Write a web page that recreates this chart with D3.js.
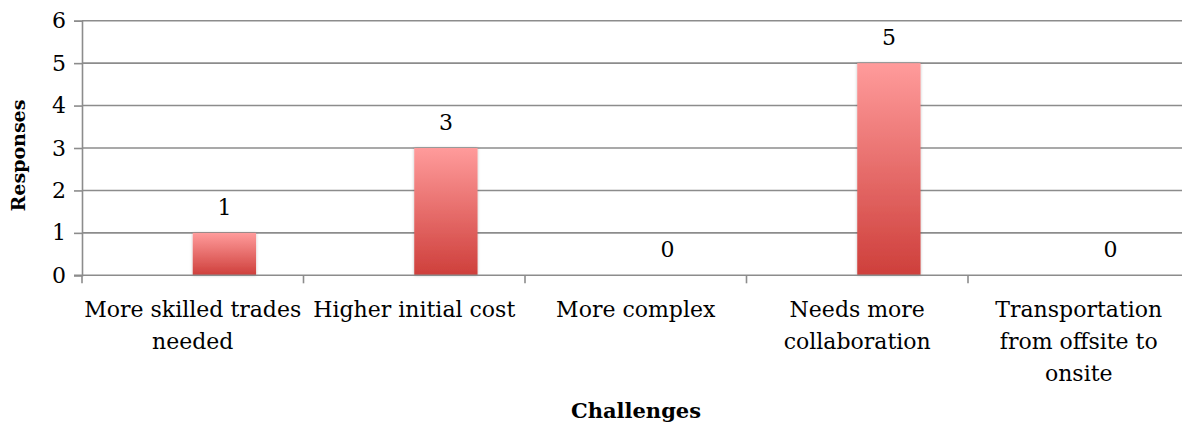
<!DOCTYPE html>
<html>
<head>
<meta charset="utf-8">
<script src="https://cdn.jsdelivr.net/npm/d3@7"></script>
<style>
  html, body { margin: 0; padding: 0; background: #fff; }
  svg { display: block; }
  text { font-family: "DejaVu Serif", "Liberation Serif", serif; fill: #000; }
</style>
</head>
<body>
<svg id="chart" width="1182" height="426"></svg>
<script>
// Survey results: challenges reported by respondents
const categories = [
  "More skilled trades needed",
  "Higher initial cost",
  "More complex",
  "Needs more collaboration",
  "Transportation from offsite to onsite"
];
// How each category label breaks across lines
const categoryLines = [
  ["More skilled trades", "needed"],
  ["Higher initial cost"],
  ["More complex"],
  ["Needs more", "collaboration"],
  ["Transportation", "from offsite to", "onsite"]
];
const responses = [1, 3, 0, 5, 0];
const yTicks = [0, 1, 2, 3, 4, 5, 6];

const svg = d3.select("#chart");
const plotLeft = 82, plotRight = 1189.5, plotTop = 20.7, plotBottom = 275.3;
const gridColor = "#8c8c8c";

const x = d3.scaleBand().domain(categories).range([plotLeft, plotRight]).paddingInner(0).paddingOuter(0);
const y = d3.scaleLinear().domain([0, 6]).range([plotBottom, plotTop]);

// Two-slot cluster layout: the data bar sits in the right slot of each category
const slot = x.bandwidth() / 3.5;

const defs = svg.append("defs");
const grad = defs.append("linearGradient")
  .attr("id", "barFill").attr("x1", 0).attr("y1", 0).attr("x2", 0).attr("y2", 1);
grad.append("stop").attr("offset", "0%").attr("stop-color", "#ff9b9b");
grad.append("stop").attr("offset", "100%").attr("stop-color", "#ce3f3b");

const shadow = defs.append("filter").attr("id", "barShadow")
  .attr("x", "-20%").attr("y", "-20%").attr("width", "140%").attr("height", "140%");
shadow.append("feDropShadow").attr("dx", 0).attr("dy", 0)
  .attr("stdDeviation", 1.6).attr("flood-color", "#000").attr("flood-opacity", 0.25);

// Horizontal gridlines
svg.append("g").selectAll("line").data(yTicks.filter(d => d > 0)).join("line")
  .attr("x1", plotLeft).attr("x2", plotRight)
  .attr("y1", d => y(d)).attr("y2", d => y(d))
  .attr("stroke", gridColor).attr("stroke-width", 1.6);

// Y axis
const yAxis = svg.append("g").attr("transform", `translate(${plotLeft},0)`)
  .call(d3.axisLeft(y).tickValues(yTicks).tickSize(8).tickPadding(8).tickFormat(d3.format("d")));
yAxis.select(".domain").attr("stroke", gridColor).attr("stroke-width", 1.6);
yAxis.selectAll(".tick line").attr("stroke", gridColor).attr("stroke-width", 1.6);
yAxis.selectAll(".tick text").attr("font-size", 22).attr("font-family", "DejaVu Serif").attr("fill", "#000");

// Bars
svg.append("g").selectAll("rect").data(categories).join("rect")
  .attr("x", (d) => x(d) + x.bandwidth() / 2)
  .attr("width", slot)
  .attr("y", (d, i) => y(responses[i]))
  .attr("height", (d, i) => y(0) - y(responses[i]))
  .attr("fill", "url(#barFill)")
  .attr("filter", "url(#barShadow)");

// X axis with boundary ticks between categories
const boundaries = categories.map(c => x(c)).concat([plotRight]);
const xAxis = svg.append("g");
xAxis.append("line")
  .attr("x1", plotLeft - 8).attr("x2", plotRight)
  .attr("y1", plotBottom).attr("y2", plotBottom)
  .attr("stroke", gridColor).attr("stroke-width", 1.6);
xAxis.selectAll("line.tick").data(boundaries).join("line").attr("class", "tick")
  .attr("x1", d => d).attr("x2", d => d)
  .attr("y1", plotBottom).attr("y2", plotBottom + 8)
  .attr("stroke", gridColor).attr("stroke-width", 1.6);

// Category labels
const labels = svg.append("g").selectAll("text").data(categories).join("text")
  .attr("text-anchor", "middle")
  .attr("font-size", 22)
  .attr("x", d => x(d) + x.bandwidth() / 2)
  .attr("y", 317);
labels.selectAll("tspan").data((d, i) => categoryLines[i]).join("tspan")
  .attr("x", function() { return this.parentNode.getAttribute("x"); })
  .attr("dy", (d, i) => i === 0 ? 0 : 32)
  .text(d => d);

// Value labels above each bar
svg.append("g").selectAll("text").data(categories).join("text")
  .attr("text-anchor", "middle")
  .attr("font-size", 22)
  .attr("x", d => x(d) + x.bandwidth() / 2 + slot / 2)
  .attr("y", (d, i) => y(responses[i]) - 18)
  .text((d, i) => responses[i]);

// Axis titles
svg.append("text")
  .attr("x", 636).attr("y", 418)
  .attr("text-anchor", "middle")
  .attr("font-size", 21).attr("font-weight", "bold")
  .text("Challenges");

svg.append("text")
  .attr("transform", `translate(25,${(98 + 213) / 2}) rotate(-90)`)
  .attr("text-anchor", "middle")
  .attr("font-size", 19).attr("font-weight", "bold")
  .text("Responses");
</script>
</body>
</html>
